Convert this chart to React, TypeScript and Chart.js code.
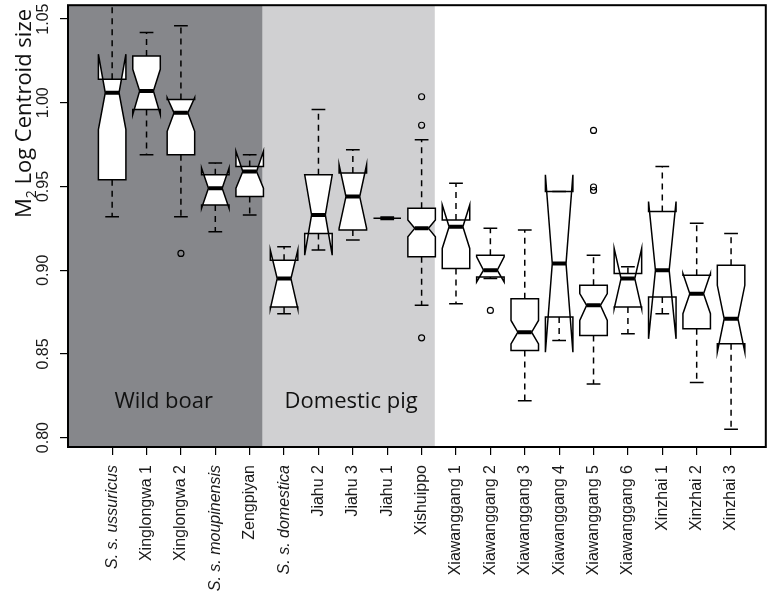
import React, { useEffect, useRef } from "react";
import { Chart, registerables } from "chart.js";

Chart.register(...registerables);

const categories = [
  "S. s. ussuricus", "Xinglongwa 1", "Xinglongwa 2", "S. s. moupinensis", "Zengpiyan",
  "S. s. domestica", "Jiahu 2", "Jiahu 3", "Jiahu 1", "Xishuippo",
  "Xiawanggang 1", "Xiawanggang 2", "Xiawanggang 3", "Xiawanggang 4", "Xiawanggang 5",
  "Xiawanggang 6", "Xinzhai 1", "Xinzhai 2", "Xinzhai 3",
];
const italicLabels = [true, false, false, true, false, true, false, false, false, false, false, false, false, false, false, false, false, false, false];

const whiskerLow = [0.932, 0.969, 0.932, 0.923, 0.933, 0.874, 0.912, 0.918, 0.931, 0.879, 0.880, 0.895, 0.822, 0.858, 0.832, 0.862, 0.874, 0.833, 0.805];
const q1 = [0.954, 0.996, 0.969, 0.939, 0.944, 0.878, 0.922, 0.924, 0.931, 0.908, 0.901, 0.896, 0.852, 0.872, 0.861, 0.878, 0.884, 0.865, 0.856];
const median = [1.006, 1.007, 0.994, 0.949, 0.959, 0.895, 0.933, 0.944, 0.931, 0.925, 0.926, 0.900, 0.863, 0.904, 0.879, 0.895, 0.900, 0.886, 0.871];
const q3 = [1.014, 1.028, 1.002, 0.957, 0.962, 0.906, 0.957, 0.958, 0.931, 0.937, 0.930, 0.909, 0.883, 0.947, 0.891, 0.898, 0.935, 0.897, 0.903];
const whiskerHigh = [1.07, 1.042, 1.046, 0.964, 0.969, 0.914, 0.996, 0.972, 0.931, 0.978, 0.952, 0.925, 0.924, 0.947, 0.909, 0.902, 0.962, 0.928, 0.922];
const notchLow = [0.984, 0.993, 0.983, 0.937, 0.949, 0.877, 0.909, 0.925, 0.931, 0.920, 0.913, 0.893, 0.856, 0.851, 0.870, 0.877, 0.859, 0.874, 0.851];
const notchHigh = [1.029, 1.020, 1.003, 0.961, 0.971, 0.912, 0.957, 0.963, 0.931, 0.930, 0.939, 0.908, 0.870, 0.957, 0.886, 0.913, 0.941, 0.898, 0.891];
const outliers: number[][] = [[], [], [0.910], [], [], [], [], [], [], [1.0036, 0.9866, 0.8596], [], [0.876], [], [], [0.9835, 0.9497, 0.9476], [], [], [], []];

const yTickValues = [0.80, 0.85, 0.90, 0.95, 1.00, 1.05];
const groupLabels = ["Wild boar", "Domestic pig"];
const groupBounds = [[-1.284, 4.377], [4.377, 9.383]];
const groupLabelCenters = [1.5, 6.95];

const X_MIN = -1.284;
const X_MAX = 19.01;
const Y_MIN = 0.7944;
const Y_MAX = 1.0583;

const BOX_HALF = 0.4;
const NOTCH_FRAC = 0.5;

const boxPlugin = {
  id: "boxPlugin",
  beforeDatasetsDraw(chart: any) {
    const { ctx, chartArea, scales } = chart;
    const xs = scales.x;
    const ys = scales.y;
    ctx.save();
    ctx.beginPath();
    ctx.rect(chartArea.left, chartArea.top, chartArea.right - chartArea.left, chartArea.bottom - chartArea.top);
    ctx.clip();
    const shades = ["#86878b", "#d0d0d2"];
    groupBounds.forEach((b, gi) => {
      const x0 = Math.max(chartArea.left, xs.getPixelForValue(b[0]));
      const x1 = xs.getPixelForValue(b[1]);
      ctx.fillStyle = shades[gi];
      ctx.fillRect(x0, chartArea.top, x1 - x0, chartArea.bottom - chartArea.top);
    });
    categories.forEach((_, i) => {
      const cx = xs.getPixelForValue(i);
      const w = xs.getPixelForValue(i + BOX_HALF) - cx;
      const py = (v: number) => ys.getPixelForValue(v);
      const pts: [number, number][] = [
        [cx - w, py(q1[i])],
        [cx + w, py(q1[i])],
        [cx + w, py(notchLow[i])],
        [cx + w * NOTCH_FRAC, py(median[i])],
        [cx + w, py(notchHigh[i])],
        [cx + w, py(q3[i])],
        [cx - w, py(q3[i])],
        [cx - w, py(notchHigh[i])],
        [cx - w * NOTCH_FRAC, py(median[i])],
        [cx - w, py(notchLow[i])],
      ];
      ctx.beginPath();
      pts.forEach((p, k) => (k === 0 ? ctx.moveTo(p[0], p[1]) : ctx.lineTo(p[0], p[1])));
      ctx.closePath();
      ctx.fillStyle = "#ffffff";
      ctx.fill();
      ctx.strokeStyle = "#000";
      ctx.lineWidth = 1.5;
      ctx.lineJoin = "miter";
      ctx.stroke();
      ctx.beginPath();
      ctx.lineWidth = 4;
      ctx.moveTo(cx - w * NOTCH_FRAC, py(median[i]));
      ctx.lineTo(cx + w * NOTCH_FRAC, py(median[i]));
      ctx.stroke();
      ctx.lineWidth = 1.5;
      ctx.setLineDash([6, 5]);
      ctx.beginPath();
      ctx.moveTo(cx, py(q3[i]));
      ctx.lineTo(cx, py(whiskerHigh[i]));
      ctx.moveTo(cx, py(q1[i]));
      ctx.lineTo(cx, py(whiskerLow[i]));
      ctx.stroke();
      ctx.setLineDash([]);
      ctx.beginPath();
      ctx.moveTo(cx - w / 2, py(whiskerHigh[i]));
      ctx.lineTo(cx + w / 2, py(whiskerHigh[i]));
      ctx.moveTo(cx - w / 2, py(whiskerLow[i]));
      ctx.lineTo(cx + w / 2, py(whiskerLow[i]));
      ctx.stroke();
    });
    ctx.restore();
  },
  afterDatasetsDraw(chart: any) {
    const { ctx, chartArea } = chart;
    ctx.save();
    ctx.strokeStyle = "#000";
    ctx.lineWidth = 2;
    ctx.strokeRect(chartArea.left, chartArea.top, chartArea.right - chartArea.left, chartArea.bottom - chartArea.top);
    ctx.restore();
  },
  afterDraw(chart: any) {
    const { ctx, scales } = chart;
    const xs = scales.x;
    const ys = scales.y;
    ctx.save();
    ctx.fillStyle = "#1a1a1a";
    ctx.font = "16px 'Liberation Sans', Arial, sans-serif";
    ctx.textAlign = "center";
    ctx.textBaseline = "alphabetic";
    yTickValues.forEach((v) => {
      ctx.save();
      ctx.translate(48, ys.getPixelForValue(v));
      ctx.rotate(-Math.PI / 2);
      ctx.fillText(v.toFixed(2), 0, 0);
      ctx.restore();
    });
    ctx.save();
    ctx.translate(31, 113.5);
    ctx.rotate(-Math.PI / 2);
    ctx.fillStyle = "#111";
    ctx.textAlign = "left";
    const big = "22px 'Open Sans', 'Noto Sans', sans-serif";
    const small = "14px 'Open Sans', 'Noto Sans', sans-serif";
    const partM = "M";
    const partSub = "2";
    const partRest = " Log Centroid size";
    ctx.font = big;
    const wM = ctx.measureText(partM).width;
    const wRest = ctx.measureText(partRest).width;
    ctx.font = small;
    const wSub = ctx.measureText(partSub).width;
    const total = wM + wSub + wRest;
    let x0 = -total / 2;
    ctx.font = big;
    ctx.fillText(partM, x0, 0);
    x0 += wM;
    ctx.font = small;
    ctx.fillText(partSub, x0, 5);
    x0 += wSub;
    ctx.font = big;
    ctx.fillText(partRest, x0, 0);
    ctx.restore();
    ctx.fillStyle = "#111";
    ctx.font = "22px 'Open Sans', 'Noto Sans', sans-serif";
    ctx.textAlign = "center";
    ctx.textBaseline = "alphabetic";
    groupLabels.forEach((t, gi) => {
      ctx.fillText(t, xs.getPixelForValue(groupLabelCenters[gi]), 408);
    });
    ctx.restore();
  },
};

export default function App() {
  const ref = useRef<HTMLCanvasElement>(null);
  useEffect(() => {
    if (!ref.current) return;
    const outlierPoints: { x: number; y: number }[] = [];
    outliers.forEach((arr, i) => arr.forEach((v) => outlierPoints.push({ x: i, y: v })));
    const chart = new Chart(ref.current, {
      type: "scatter",
      data: {
        datasets: [
          {
            data: outlierPoints,
            pointStyle: "circle",
            pointRadius: 3,
            pointBorderWidth: 1.2,
            pointBorderColor: "#000",
            pointBackgroundColor: "rgba(0,0,0,0)",
          },
        ],
      },
      options: {
        responsive: false,
        animation: false,
        layout: { padding: { top: 2, right: 3, left: 0, bottom: 0 } },
        plugins: { legend: { display: false }, tooltip: { enabled: false } },
        scales: {
          x: {
            type: "linear",
            min: X_MIN,
            max: X_MAX,
            afterBuildTicks: (axis: any) => {
              axis.ticks = categories.map((_, i) => ({ value: i }));
            },
            afterFit: (s: any) => {
              s.height = 147;
            },
            border: { display: false },
            grid: { drawOnChartArea: false, drawTicks: true, tickLength: 8, color: "#000", lineWidth: 1.2 },
            ticks: {
              autoSkip: false,
              minRotation: 90,
              maxRotation: 90,
              padding: 10,
              color: "#1a1a1a",
              font: (c: any) => ({
                family: "'Liberation Sans', Arial, sans-serif",
                size: 16,
                style: italicLabels[c.index] ? "italic" : "normal",
              }),
              callback: (_v: any, idx: number) => categories[idx],
            },
          },
          y: {
            type: "linear",
            min: Y_MIN,
            max: Y_MAX,
            afterBuildTicks: (axis: any) => {
              axis.ticks = yTickValues.map((v) => ({ value: v }));
            },
            afterFit: (s: any) => {
              s.width = 68;
            },
            border: { display: false },
            grid: { drawOnChartArea: false, drawTicks: true, tickLength: 8, color: "#000", lineWidth: 1.2 },
            ticks: { display: false },
          },
        },
      },
      plugins: [boxPlugin],
    });
    return () => chart.destroy();
  }, []);
  return (
    <div style={{ position: "fixed", left: 0, top: 0, width: 771, height: 594, background: "#fff" }}>
      <canvas ref={ref} width={771} height={594} style={{ display: "block" }} />
    </div>
  );
}
